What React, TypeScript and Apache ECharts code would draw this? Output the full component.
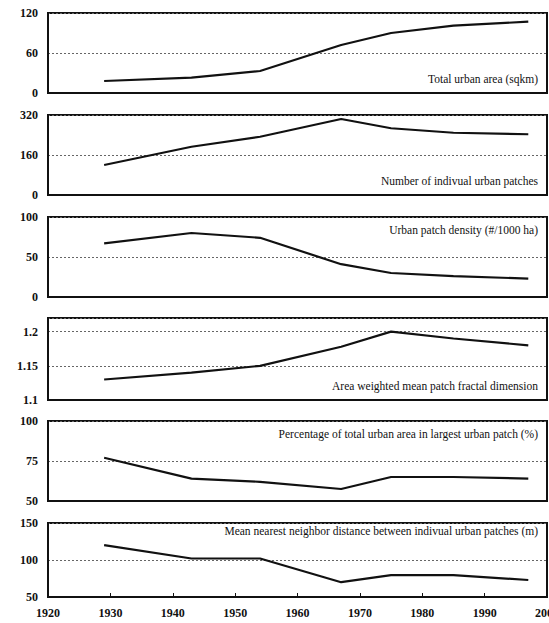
import React, { useEffect, useRef } from "react";
import * as echarts from "echarts";

const years = [1929, 1943, 1954, 1967, 1975, 1985, 1997];
const totalArea = [18, 23, 33, 72, 90, 101, 107];
const patchCount = [120, 193, 233, 304, 267, 249, 243];
const patchDensity = [67, 80, 74, 41, 30, 26, 23];
const fractalDim = [1.13, 1.14, 1.15, 1.178, 1.2, 1.19, 1.18];
const largestPatchPct = [77, 64, 62, 57.5, 65, 65, 64];
const nnDistance = [120, 102, 102, 70, 79.5, 79.5, 73];

const panelTitles = [
  "Total urban area (sqkm)",
  "Number of indivual urban patches",
  "Urban patch density (#/1000 ha)",
  "Area weighted mean patch fractal dimension",
  "Percentage of total urban area in largest urban patch (%)",
  "Mean nearest neighbor distance between indivual urban patches (m)",
];
const panelSeries = [totalArea, patchCount, patchDensity, fractalDim, largestPatchPct, nnDistance];
const yMins = [0, 0, 0, 1.1, 50, 50];
const yMaxs = [120, 320, 100, 1.22, 100, 150];
const yIntervals = [60, 160, 50, 0.05, 25, 50];
const titleAtTop = [false, false, true, false, true, true];
const xMin = 1920;
const xMax = 2000;
const xInterval = 10;

const FONT = "Liberation Serif";

export default function App() {
  const ref = useRef<HTMLDivElement>(null);
  useEffect(() => {
    document.body.style.margin = "0";
    if (!ref.current) return;
    const chart = echarts.init(ref.current, undefined, { renderer: "svg" });
    const tops = [13, 115, 217, 318, 421, 523];
    const heights = [80, 80, 80, 82, 80, 74];
    const left = 48;
    const right = 2;
    const grids: any[] = [];
    const xAxes: any[] = [];
    const yAxes: any[] = [];
    const series: any[] = [];
    const titles: any[] = [];
    panelSeries.forEach((vals, i) => {
      const isLast = i === panelSeries.length - 1;
      grids.push({
        left,
        right,
        top: tops[i],
        height: heights[i],
        outerBoundsMode: "none",
        containLabel: false,
        show: true,
        borderColor: "#111",
        borderWidth: 2,
        backgroundColor: "transparent",
      });
      xAxes.push({
        type: "value",
        gridIndex: i,
        min: xMin,
        max: xMax,
        interval: xInterval,
        axisLine: { show: true, lineStyle: { color: "#111", width: 2 } },
        axisTick: { show: isLast, inside: true, length: 4, lineStyle: { color: "#111" } },
        axisLabel: {
          show: isLast,
          margin: 10,
          fontFamily: FONT,
          fontWeight: "bold",
          fontSize: 12,
          color: "#111",
          hideOverlap: false,
          formatter: (v: number) => String(v),
        },
        splitLine: { show: false },
      });
      yAxes.push({
        type: "value",
        gridIndex: i,
        min: yMins[i],
        max: yMaxs[i],
        interval: yIntervals[i],
        axisLine: { show: true, lineStyle: { color: "#111", width: 2 } },
        axisTick: { show: false },
        axisLabel: {
          margin: 10,
          fontFamily: FONT,
          fontWeight: "bold",
          fontSize: 12,
          color: "#111",
          showMaxLabel: i === 3 ? false : true,
        },
        splitLine: { show: true, lineStyle: { type: [2, 2], color: "#666", width: 1 } },
      });
      series.push({
        type: "line",
        xAxisIndex: i,
        yAxisIndex: i,
        data: years.map((y, k) => [y, vals[k]]),
        showSymbol: false,
        lineStyle: { color: "#111", width: 2.2 },
        z: 5,
      });
      titles.push({
        text: panelTitles[i],
        right: 11,
        top: titleAtTop[i] ? tops[i] + (i === 5 ? 2 : 7) : tops[i] + heights[i] - 20,
        padding: 0,
        textStyle: { fontFamily: FONT, fontSize: 11.5, fontWeight: "normal", color: "#111" },
      });
    });
    chart.setOption({
      animation: false,
      backgroundColor: "#fff",
      title: titles,
      grid: grids,
      xAxis: xAxes,
      yAxis: yAxes,
      series,
    });
    return () => chart.dispose();
  }, []);
  return <div ref={ref} style={{ position: "absolute", left: 0, top: 0, width: 549, height: 623 }} />;
}
